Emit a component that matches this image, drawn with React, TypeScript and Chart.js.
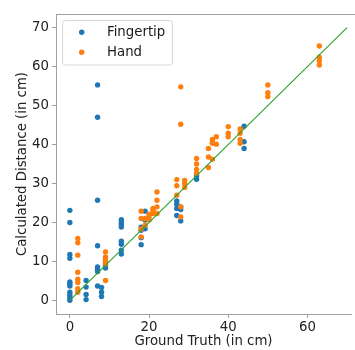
import React, { useEffect, useRef } from "react";
import { Chart, registerables } from "chart.js";

Chart.register(...registerables);

const fingertipTruth = [
  0, 0, 0, 0, 0, 0, 0, 0, 0, 0, 0,
  4.1, 4.1, 4.1, 4.1,
  7, 7, 7, 7, 7, 7, 7, 7,
  8, 8, 8,
  9, 9, 9, 9,
  13, 13, 13, 13, 13, 13, 13, 13,
  18, 18, 18, 18,
  19, 19, 19,
  27, 27, 27, 27,
  28, 28, 28,
  32, 32,
  44, 44, 44,
];
const fingertipCalc = [
  23.1, 20.0, 11.8, 10.8, 4.7, 4.2, 3.7, 2.1, 1.3, 0.6, 0.0,
  5.1, 3.4, 1.5, 0.2,
  55.3, 47.0, 25.7, 14.0, 8.6, 8.0, 7.4, 3.7,
  3.3, 2.1, 1.0,
  11.0, 10.0, 9.0, 8.3,
  20.7, 20.0, 19.4, 18.8, 15.2, 14.4, 12.9, 11.9,
  18.8, 18.0, 16.1, 14.3,
  22.9, 20.6, 18.4,
  25.5, 24.7, 23.6, 21.8,
  24.0, 23.3, 20.4,
  32.0, 31.1,
  44.7, 40.7, 39.0,
];

const handTruth = [
  2, 2, 2, 2, 2, 2, 2, 2,
  9, 9, 9, 9, 9,
  18, 18, 18, 18,
  19, 19,
  20, 20, 20,
  21, 21, 21,
  22, 22, 22, 22,
  27, 27, 27,
  28, 28, 28, 28,
  29, 29, 29,
  32, 32, 32, 32,
  35, 35, 35,
  36, 36, 36, 36,
  37, 37,
  40, 40, 40,
  43, 43, 43, 43,
  50, 50, 50,
  63, 63, 63, 63,
];
const handCalc = [
  15.9, 14.8, 11.6, 7.2, 5.4, 4.6, 3.0, 2.1,
  12.4, 11.1, 10.3, 9.4, 5.1,
  22.9, 21.0, 18.3, 16.3,
  21.0, 19.3,
  22.1, 21.4, 20.6,
  23.6, 23.1, 22.3,
  27.8, 25.7, 24.0, 22.3,
  31.0, 29.4, 27.0,
  54.8, 45.2, 24.0, 21.4,
  30.8, 30.0, 29.0,
  36.4, 35.0, 33.6, 32.6,
  39.0, 36.8, 34.1,
  41.3, 40.7, 40.3, 36.2,
  42.0, 40.1,
  44.6, 42.9, 42.0,
  44.0, 42.9, 41.3, 40.3,
  55.3, 53.3, 52.3,
  65.3, 62.4, 61.5, 60.4,
];

const identityLine = [0, 70];
const xTicks = [0, 20, 40, 60];
const yTicks = [0, 10, 20, 30, 40, 50, 60, 70];
const seriesNames = ["Fingertip", "Hand"];
const xTitle = "Ground Truth (in cm)";
const yTitle = "Calculated Distance (in cm)";

const BLUE = "#1f77b4";
const ORANGE = "#ff7f0e";
const GREEN = "#2ca02c";
const FONT = "'DejaVu Sans', sans-serif";
const SPINE = "#a0a0a0";

const framePlugin = {
  id: "frameAndLegend",
  afterDraw(chart: any) {
    const { ctx, chartArea } = chart;
    ctx.save();
    // top spine
    ctx.strokeStyle = SPINE;
    ctx.lineWidth = 1;
    ctx.beginPath();
    ctx.moveTo(chartArea.left, chartArea.top + 0.5);
    ctx.lineTo(chartArea.right + 10, chartArea.top + 0.5);
    ctx.stroke();

    // legend box
    const bx = 62.5, by = 20.5, bw = 110, bh = 44.5, r = 3;
    ctx.fillStyle = "rgba(255,255,255,0.8)";
    ctx.strokeStyle = "#d6d6d6";
    ctx.beginPath();
    ctx.moveTo(bx + r, by);
    ctx.lineTo(bx + bw - r, by);
    ctx.quadraticCurveTo(bx + bw, by, bx + bw, by + r);
    ctx.lineTo(bx + bw, by + bh - r);
    ctx.quadraticCurveTo(bx + bw, by + bh, bx + bw - r, by + bh);
    ctx.lineTo(bx + r, by + bh);
    ctx.quadraticCurveTo(bx, by + bh, bx, by + bh - r);
    ctx.lineTo(bx, by + r);
    ctx.quadraticCurveTo(bx, by, bx + r, by);
    ctx.closePath();
    ctx.fill();
    ctx.stroke();

    const colors = [BLUE, ORANGE];
    const rows = [32.3, 52.3];
    ctx.font = `13.3px ${FONT}`;
    ctx.textBaseline = "middle";
    ctx.textAlign = "left";
    seriesNames.forEach((name, i) => {
      ctx.fillStyle = colors[i];
      ctx.beginPath();
      ctx.arc(81.7, rows[i], 2.7, 0, Math.PI * 2);
      ctx.fill();
      ctx.fillStyle = "#1a1a1a";
      ctx.fillText(name, 107, rows[i] + 0.5);
    });
    ctx.restore();
  },
};

export default function App() {
  const ref = useRef<HTMLCanvasElement | null>(null);

  useEffect(() => {
    if (!ref.current) return;
    const toPoints = (xs: number[], ys: number[]) =>
      xs.map((x, i) => ({ x, y: ys[i] }));

    const chart = new Chart(ref.current, {
      type: "scatter",
      data: {
        datasets: [
          {
            type: "line",
            label: "y = x",
            data: toPoints(identityLine, identityLine),
            borderColor: GREEN,
            borderWidth: 1.1,
            pointRadius: 0,
            fill: false,
            order: 1,
          } as any,
          {
            label: seriesNames[1],
            data: toPoints(handTruth, handCalc),
            backgroundColor: ORANGE,
            borderWidth: 0,
            pointRadius: 2.7,
            order: 2,
          },
          {
            label: seriesNames[0],
            data: toPoints(fingertipTruth, fingertipCalc),
            backgroundColor: BLUE,
            borderWidth: 0,
            pointRadius: 2.7,
            order: 3,
          },
        ],
      },
      options: {
        responsive: false,
        animation: false,
        layout: { padding: { top: 14, right: 0, left: 0, bottom: 0 } },
        plugins: {
          legend: { display: false },
          tooltip: { enabled: false },
        },
        scales: {
          x: {
            type: "linear",
            min: -3.5,
            max: 71,
            afterBuildTicks: (s: any) => {
              s.ticks = xTicks.map((v) => ({ value: v }));
            },
            afterFit: (s: any) => {
              s.height = 36;
              s.paddingLeft = 0;
              s.paddingRight = 0;
            },
            grid: {
              display: true,
              drawOnChartArea: false,
              drawTicks: true,
              tickLength: 4,
              tickColor: SPINE,
            },
            border: { display: true, color: SPINE, width: 1 },
            ticks: {
              color: "#222",
              font: { family: FONT, size: 13.3 },
              padding: 2,
              maxRotation: 0,
            },
            title: {
              display: true,
              text: xTitle,
              color: "#222",
              font: { family: FONT, size: 13.3 },
              padding: { top: 0, bottom: 0 },
            },
          },
          y: {
            type: "linear",
            min: -3.5,
            max: 73.5,
            afterBuildTicks: (s: any) => {
              s.ticks = yTicks.map((v) => ({ value: v }));
            },
            afterFit: (s: any) => {
              s.width = 56;
              s.paddingTop = 0;
              s.paddingBottom = 0;
            },
            grid: {
              display: true,
              drawOnChartArea: false,
              drawTicks: true,
              tickLength: 4,
              tickColor: SPINE,
            },
            border: { display: true, color: SPINE, width: 1 },
            ticks: {
              color: "#222",
              font: { family: FONT, size: 13.3 },
              padding: 3,
            },
            title: {
              display: true,
              text: yTitle,
              color: "#222",
              font: { family: FONT, size: 13.3 },
              padding: { top: 15, bottom: 0 },
            },
          },
        },
      },
      plugins: [framePlugin],
    });
    return () => chart.destroy();
  }, []);

  return (
    <canvas
      ref={ref}
      width={355}
      height={350}
      style={{ position: "absolute", left: 0, top: 0, display: "block" }}
    />
  );
}
